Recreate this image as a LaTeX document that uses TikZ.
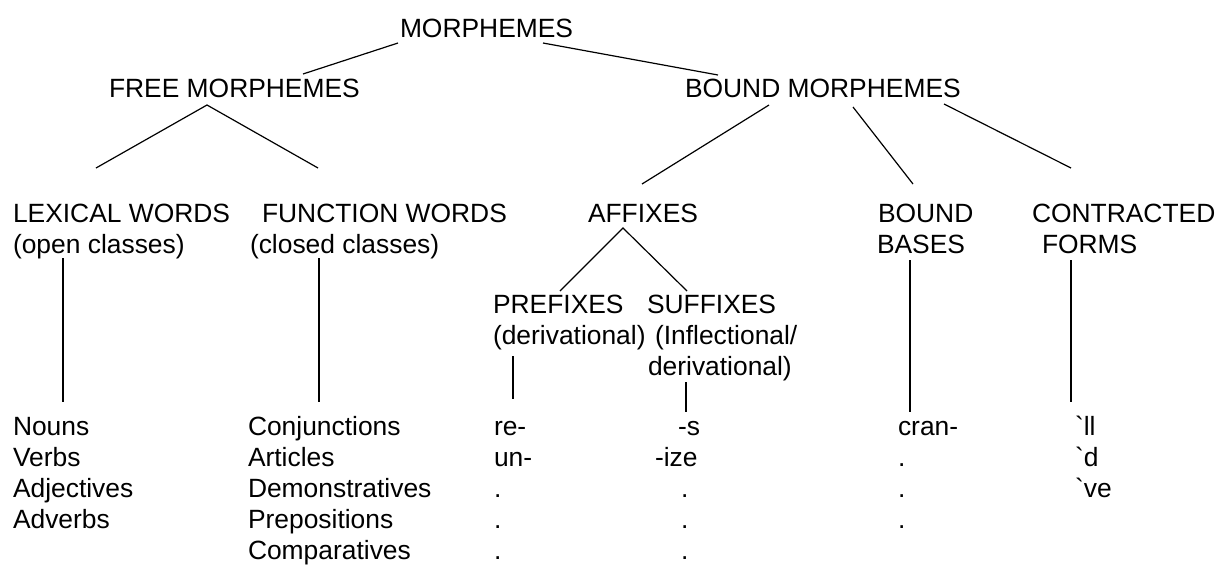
\documentclass[tikz,border=0pt]{standalone}
\usepackage{fontspec}
\newfontfamily\arial{Liberation Sans}
\begin{document}
\begin{tikzpicture}[x=1pt,y=-1pt,
  lbl/.style={anchor=base west,inner sep=0pt,outer sep=0pt,
    font=\arial\fontsize{26.4}{32}\selectfont},
  branch/.style={line width=1.2pt,line cap=butt}]
\useasboundingbox (0,0) rectangle (1217,566);

% ---- category labels
\node[lbl] (morph) at (400,37) {MORPHEMES};
\node[lbl] (free)  at (109,97) {FREE MORPHEMES};
\node[lbl] (bound) at (685,97) {BOUND MORPHEMES};

\node[lbl] (lex)    at (13,222)  {LEXICAL WORDS};
\node[lbl] (lexb)   at (13,253)  {(open classes)};
\node[lbl] (func)   at (262,222) {FUNCTION WORDS};
\node[lbl] (funcb)  at (250,253) {(closed classes)};
\node[lbl] (aff)    at (588,222) {AFFIXES};
\node[lbl] (bb)     at (878,222) {BOUND};
\node[lbl] (bbb)    at (877,253) {BASES};
\node[lbl] (con)    at (1032,222) {CONTRACTED};
\node[lbl] (conb)   at (1042,253) {FORMS};

\node[lbl] (pre)    at (493,313) {PREFIXES};
\node[lbl] (preb)   at (493,344) {(derivational)};
\node[lbl] (suf)    at (647,313) {SUFFIXES};
\node[lbl] (sufb)   at (655,344) {(Inflectional/};
\node[lbl] (sufc)   at (648,375) {derivational)};

% ---- example lists (row pitch 31)
\foreach \t [count=\i] in {Nouns,Verbs,Adjectives,Adverbs}
  \node[lbl] (lex\i) at (13,{435+31*(\i-1)}) {\t};
\foreach \t [count=\i] in {Conjunctions,Articles,Demonstratives,Prepositions,Comparatives}
  \node[lbl] (fn\i) at (248,{435+31*(\i-1)}) {\t};
\foreach \t [count=\i] in {re-,un-,.,.,.}
  \node[lbl] (pr\i) at (494,{435+31*(\i-1)}) {\t};
\node[lbl] (sf1) at (678,435) {-s};
\node[lbl] (sf2) at (655,466) {-ize};
\foreach \i in {3,4,5}
  \node[lbl] (sf\i) at (681,{435+31*(\i-1)}) {.};
\foreach \t [count=\i] in {cran-,.,.,.}
  \node[lbl] (cb\i) at (898,{435+31*(\i-1)}) {\t};
\foreach \t [count=\i] in {`ll,`d,`ve}
  \node[lbl] (cf\i) at (1075,{435+31*(\i-1)}) {\t};

% ---- branch end points
\coordinate (morph-l) at (398,43);
\coordinate (morph-r) at (543,43);
\coordinate (free-t)  at (303,74);
\coordinate (free-b)  at (207,105);
\coordinate (bound-t) at (718,75);
\coordinate (bound-a) at (769,105);
\coordinate (bound-b) at (853,107);
\coordinate (bound-c) at (944,104);
\coordinate (lex-t)   at (96,168);
\coordinate (func-t)  at (318,168);
\coordinate (aff-t)   at (642,184);
\coordinate (bb-t)    at (913,184);
\coordinate (con-t)   at (1071,168);
\coordinate (aff-b)   at (623,228);
\coordinate (pre-t)   at (560,291);
\coordinate (suf-t)   at (687,291);
\coordinate (lex-b)   at (63,258);
\coordinate (lex-e)   at (63,402);
\coordinate (func-b)  at (319,258);
\coordinate (func-e)  at (319,402);
\coordinate (pre-b)   at (513,356);
\coordinate (pre-e)   at (513,399);
\coordinate (suf-b)   at (686,382);
\coordinate (suf-e)   at (686,412);
\coordinate (bb-b)    at (910,260);
\coordinate (bb-e)    at (910,412);
\coordinate (con-b)   at (1071,260);
\coordinate (con-e)   at (1071,402);

% ---- branches
\draw[branch] (morph-l) -- (free-t);
\draw[branch] (morph-r) -- (bound-t);
\draw[branch] (lex-t) -- (free-b) -- (func-t);
\draw[branch] (bound-a) -- (aff-t);
\draw[branch] (bound-b) -- (bb-t);
\draw[branch] (bound-c) -- (con-t);
\draw[branch] (pre-t) -- (aff-b) -- (suf-t);
\draw[branch] (lex-b) -- (lex-e);
\draw[branch] (func-b) -- (func-e);
\draw[branch] (pre-b) -- (pre-e);
\draw[branch] (suf-b) -- (suf-e);
\draw[branch] (bb-b) -- (bb-e);
\draw[branch] (con-b) -- (con-e);
\end{tikzpicture}
\end{document}
